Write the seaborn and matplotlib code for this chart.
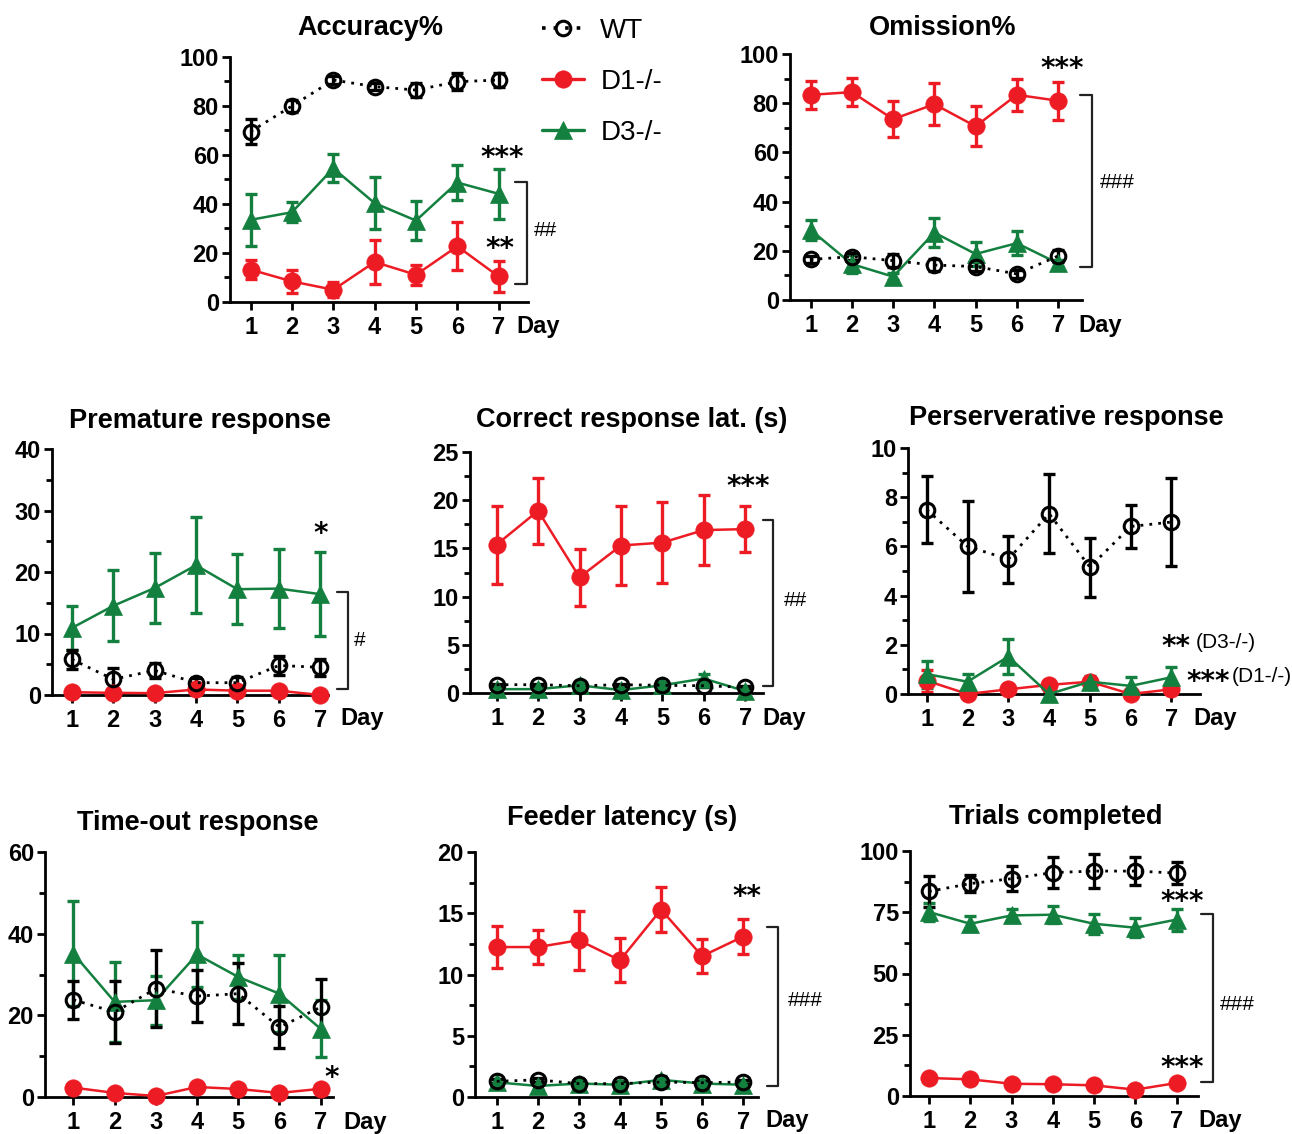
import numpy as np
import pandas as pd
import matplotlib
matplotlib.use("Agg")
import matplotlib.pyplot as plt
import seaborn as sns
from matplotlib.lines import Line2D
from matplotlib.ticker import MultipleLocator

sns.set_theme(style="ticks")
plt.rcParams['font.family'] = ['Liberation Sans', 'DejaVu Sans']
plt.rcParams['text.color'] = 'black'
plt.rcParams['xtick.color'] = 'black'
plt.rcParams['ytick.color'] = 'black'
plt.rcParams['axes.labelcolor'] = 'black'

W, H = 1292, 1134
days = [1, 2, 3, 4, 5, 6, 7]
groups = ["WT", "D1-/-", "D3-/-"]

# ---------------- data ----------------
acc_wt = [69.5, 79.9, 90.5, 87.8, 86.4, 89.8, 90.5]
acc_wt_err = [5.0, 2.6, 1.5, 1.5, 2.7, 3.5, 3.0]
acc_d1 = [13.2, 8.4, 5.0, 16.3, 11.1, 22.7, 10.4]
acc_d1_err = [4.0, 4.8, 3.0, 8.8, 4.0, 9.8, 6.4]
acc_d3 = [33.5, 36.6, 54.5, 40.3, 33.2, 48.7, 44.1]
acc_d3_err = [10.7, 4.0, 5.7, 10.5, 8.0, 7.0, 10.3]

om_wt = [16.5, 17.6, 16.0, 14.2, 13.6, 10.6, 17.9]
om_wt_err = [1.5, 1.5, 2.6, 2.5, 2.0, 1.5, 2.5]
om_d1 = [83.4, 84.5, 73.5, 79.6, 70.6, 83.4, 81.0]
om_d1_err = [5.7, 5.8, 7.2, 8.5, 8.2, 6.4, 7.8]
om_d3 = [28.5, 14.6, 9.5, 27.4, 18.7, 23.1, 14.9]
om_d3_err = [4.0, 3.7, 1.5, 6.0, 5.0, 5.0, 1.5]

pre_wt = [5.8, 2.55, 4.0, 2.0, 2.0, 4.8, 4.5]
pre_wt_err = [1.5, 1.9, 1.2, 0.8, 1.0, 1.6, 1.4]
pre_d1 = [0.45, 0.35, 0.3, 0.9, 0.7, 0.7, 0.0]
pre_d1_err = [0.3, 0.3, 0.3, 0.3, 0.3, 0.3, 0.1]
pre_d3 = [10.9, 14.5, 17.4, 21.1, 17.2, 17.3, 16.4]
pre_d3_err = [3.6, 5.8, 5.75, 7.8, 5.7, 6.4, 6.8]

crl_wt = [0.86, 0.86, 0.75, 0.86, 0.8, 0.75, 0.6]
crl_wt_err = [0.1, 0.1, 0.1, 0.1, 0.1, 0.1, 0.1]
crl_d1 = [15.4, 18.9, 12.0, 15.3, 15.6, 16.9, 17.0]
crl_d1_err = [4.05, 3.45, 2.95, 4.05, 4.2, 3.6, 2.4]
crl_d3 = [0.4, 0.4, 0.8, 0.3, 0.8, 1.5, 0.2]
crl_d3_err = [0.2, 0.2, 0.3, 0.2, 0.3, 0.5, 0.2]

per_wt = [7.49, 6.0, 5.48, 7.33, 5.16, 6.81, 6.99]
per_wt_err = [1.36, 1.86, 0.95, 1.6, 1.2, 0.87, 1.8]
per_d1 = [0.54, 0.0, 0.19, 0.37, 0.5, 0.0, 0.19]
per_d1_err = [0.45, 0.05, 0.1, 0.2, 0.2, 0.05, 0.1]
per_d3 = [0.81, 0.5, 1.52, 0.0, 0.5, 0.33, 0.68]
per_d3_err = [0.55, 0.3, 0.72, 0.05, 0.25, 0.35, 0.4]

to_wt = [23.8, 20.8, 26.5, 24.7, 25.3, 17.1, 22.0]
to_wt_err = [4.6, 7.5, 9.4, 6.4, 7.4, 5.2, 6.9]
to_d1 = [2.3, 1.0, 0.25, 2.45, 1.96, 1.0, 2.0]
to_d1_err = [0.5, 0.4, 0.2, 0.5, 0.5, 0.4, 0.5]
to_d3 = [35.1, 23.3, 23.7, 34.9, 29.4, 25.3, 16.7]
to_d3_err = [12.9, 9.8, 6.0, 8.0, 5.3, 9.4, 7.0]

fl_wt = [1.28, 1.4, 1.09, 1.09, 1.22, 1.17, 1.22]
fl_wt_err = [0.15, 0.15, 0.15, 0.15, 0.15, 0.15, 0.15]
fl_d1 = [12.24, 12.24, 12.8, 11.16, 15.3, 11.5, 13.1]
fl_d1_err = [1.68, 1.4, 2.4, 1.8, 1.85, 1.4, 1.45]
fl_d3 = [1.2, 0.9, 1.1, 1.0, 1.4, 1.1, 1.0]
fl_d3_err = [0.3, 0.3, 0.3, 0.3, 0.3, 0.3, 0.3]

tr_wt = [83.5, 86.7, 88.7, 91.2, 91.8, 91.8, 91.0]
tr_wt_err = [6.2, 3.5, 5.0, 6.5, 7.0, 5.6, 4.6]
tr_d1 = [7.35, 6.8, 5.0, 4.8, 4.35, 2.6, 5.3]
tr_d1_err = [0.8, 0.8, 0.8, 0.8, 0.8, 0.8, 0.8]
tr_d3 = [75.1, 70.3, 73.7, 74.0, 70.3, 68.7, 72.0]
tr_d3_err = [3.5, 3.0, 2.5, 3.4, 4.0, 3.8, 4.5]

titles = ["Accuracy%", "Omission%", "Premature response", "Correct response lat. (s)",
          "Perserverative response", "Time-out response", "Feeder latency (s)", "Trials completed"]

# ---------------- styles ----------------
RED = "#ED1C24"
GREEN = "#14803F"
BLACK = "#000000"
style = {
    "WT": dict(color=BLACK, marker="o", markersize=10.5, markerfacecolor="none",
               markeredgecolor=BLACK, markeredgewidth=2.2, linestyle=(0, (1, 2.2)), linewidth=2.0),
    "D1-/-": dict(color=RED, marker="o", markersize=12.5, markerfacecolor=RED,
                  markeredgecolor=RED, markeredgewidth=0.5, linestyle="-", linewidth=1.8),
    "D3-/-": dict(color=GREEN, marker="^", markersize=13.5, markerfacecolor=GREEN,
                  markeredgecolor=GREEN, markeredgewidth=0.5, linestyle="-", linewidth=1.8),
}

fig = plt.figure(figsize=(W / 100, H / 100), dpi=100)


def px_axes(L, T, R, B):
    return fig.add_axes([L / W, 1 - B / H, (R - L) / W, (B - T) / H])


def ptext(x, y, s, **kw):
    kw.setdefault("ha", "center")
    kw.setdefault("va", "center")
    fig.text(x / W, 1 - y / H, s, **kw)


panels = [
    dict(box=(230, 56.7, 528, 302), xlim=(0.5, 7.71), ymax=100, major=20, minor=10,
         data=[(acc_wt, acc_wt_err), (acc_d1, acc_d1_err), (acc_d3, acc_d3_err)],
         tpos=(370, 28), day=(516, 326)),
    dict(box=(790, 54, 1082, 300), xlim=(0.5, 7.58), ymax=100, major=20, minor=10,
         data=[(om_wt, om_wt_err), (om_d1, om_d1_err), (om_d3, om_d3_err)],
         tpos=(943, 28), day=(1078, 325)),
    dict(box=(52, 449, 328, 695), xlim=(0.52, 7.19), ymax=40, major=10, minor=5,
         data=[(pre_wt, pre_wt_err), (pre_d1, pre_d1_err), (pre_d3, pre_d3_err)],
         tpos=(200, 421), day=(340, 719)),
    dict(box=(470, 452, 763, 693), xlim=(0.355, 7.43), ymax=25, major=5, minor=2.5,
         data=[(crl_wt, crl_wt_err), (crl_d1, crl_d1_err), (crl_d3, crl_d3_err)],
         tpos=(632, 420), day=(762, 719)),
    dict(box=(908, 448, 1200, 694), xlim=(0.54, 7.7), ymax=10, major=2, minor=1,
         data=[(per_wt, per_wt_err), (per_d1, per_d1_err), (per_d3, per_d3_err)],
         tpos=(1066, 418), day=(1193, 718)),
    dict(box=(45, 852, 333, 1097), xlim=(0.31, 7.3), ymax=60, major=20, minor=10,
         data=[(to_wt, to_wt_err), (to_d1, to_d1_err), (to_d3, to_d3_err)],
         tpos=(198, 823), day=(343, 1122)),
    dict(box=(475, 852, 758, 1097), xlim=(0.47, 7.36), ymax=20, major=5, minor=2.5,
         data=[(fl_wt, fl_wt_err), (fl_d1, fl_d1_err), (fl_d3, fl_d3_err)],
         tpos=(622, 818), day=(765, 1121)),
    dict(box=(910, 851, 1198, 1096), xlim=(0.54, 7.52), ymax=100, major=25, minor=12.5,
         data=[(tr_wt, tr_wt_err), (tr_d1, tr_d1_err), (tr_d3, tr_d3_err)],
         tpos=(1056, 817), day=(1198, 1121)),
]

TICKFS = 17
axes = []
for i, p in enumerate(panels):
    ax = px_axes(*p["box"])
    axes.append(ax)
    order = [1, 2, 0]
    for gi in order:
        g = groups[gi]
        vals, errs = p["data"][gi]
        st = style[g]
        ax.errorbar(days, vals, yerr=errs, fmt="none", ecolor=st["color"], elinewidth=2.4,
                    capsize=4.5, capthick=2.4, zorder=2)
        df = pd.DataFrame({"Day": days, "val": vals})
        sns.lineplot(data=df, x="Day", y="val", ax=ax, color=st["color"], marker=st["marker"],
                     markersize=st["markersize"], markerfacecolor=st["markerfacecolor"],
                     markeredgecolor=st["markeredgecolor"], markeredgewidth=st["markeredgewidth"],
                     linestyle=st["linestyle"], linewidth=st["linewidth"], clip_on=False,
                     zorder=3, legend=False)
    ax.set_xlim(*p["xlim"])
    ax.set_ylim(0, p["ymax"])
    ax.set_xticks(days)
    ax.yaxis.set_major_locator(MultipleLocator(p["major"]))
    ax.yaxis.set_minor_locator(MultipleLocator(p["minor"]))
    ax.set_xlabel("")
    ax.set_ylabel("")
    sns.despine(ax=ax)
    for s in ["left", "bottom"]:
        ax.spines[s].set_linewidth(2.0)
        ax.spines[s].set_color("black")
    ax.tick_params(axis="both", which="major", length=6, width=2.0, color="black",
                   labelsize=TICKFS, pad=2, labelcolor="black")
    ax.tick_params(axis="x", which="major", length=6, pad=4)
    ax.tick_params(axis="y", which="minor", length=4, width=2.0, color="black")
    for lab in ax.get_xticklabels() + ax.get_yticklabels():
        lab.set_fontweight("bold")
    ax.patch.set_alpha(0)
    ptext(*p["tpos"], titles[i], fontsize=19.5, fontweight="bold")
    ptext(p["day"][0], p["day"][1], "Day", fontsize=TICKFS, fontweight="bold", ha="left")


def bracket(ax, x0, x1, ytop, ybot):
    ax.plot([x0, x1, x1, x0], [ytop, ytop, ybot, ybot], color="#222222", lw=1.6,
            clip_on=False, zorder=4)


SK = dict(fontsize=20, fontweight="bold", family="DejaVu Sans")
HK = dict(fontsize=15)
# Accuracy
bracket(axes[0], 7.4, 7.68, 49.1, 7.5)
ptext(502, 158, "***", **SK)
ptext(500, 249, "**", **SK)
ptext(545, 230, "##", **HK)
# Omission
bracket(axes[1], 7.54, 7.82, 83.4, 13.6)
ptext(1062, 69, "***", **SK)
ptext(1117, 182, "###", **HK)
# Premature
bracket(axes[2], 7.4, 7.68, 16.7, 0.9)
ptext(321, 534, "*", **SK)
ptext(360, 640, "#", **HK)
# Correct response latency
bracket(axes[3], 7.44, 7.68, 17.9, 0.76)
ptext(748, 487, "***", **SK)
ptext(795, 600, "##", **HK)
# Perseverative
ptext(1161, 647, "**", ha="left", **SK)
ptext(1196, 642, "(D3-/-)", ha="left", fontsize=15)
ptext(1186, 682, "***", ha="left", **SK)
ptext(1232, 677, "(D1-/-)", ha="left", fontsize=15)
# Time-out
ptext(332, 1078, "*", **SK)
# Feeder latency
bracket(axes[6], 7.57, 7.85, 13.9, 0.9)
ptext(747, 897, "**", **SK)
ptext(805, 1000, "###", **HK)
# Trials completed
bracket(axes[7], 7.6, 7.88, 74.4, 5.7)
ptext(1182, 902, "***", **SK)
ptext(1182, 1068, "***", **SK)
ptext(1237, 1005, "###", **HK)

# Legend
handles = []
for g in groups:
    st = style[g]
    handles.append(Line2D([0], [0], color=st["color"], marker=st["marker"],
                          markersize=st["markersize"], markerfacecolor=st["markerfacecolor"],
                          markeredgecolor=st["markeredgecolor"], markeredgewidth=st["markeredgewidth"],
                          linestyle=st["linestyle"], linewidth=st["linewidth"] + 0.6))
fig.legend(handles, groups, loc="upper left", bbox_to_anchor=(542 / W, 1 - 18 / H),
           frameon=False, fontsize=20, handlelength=1.5, handletextpad=0.6,
           labelspacing=0.9, borderaxespad=0, borderpad=0)

fig.savefig("out.png", dpi=100)
